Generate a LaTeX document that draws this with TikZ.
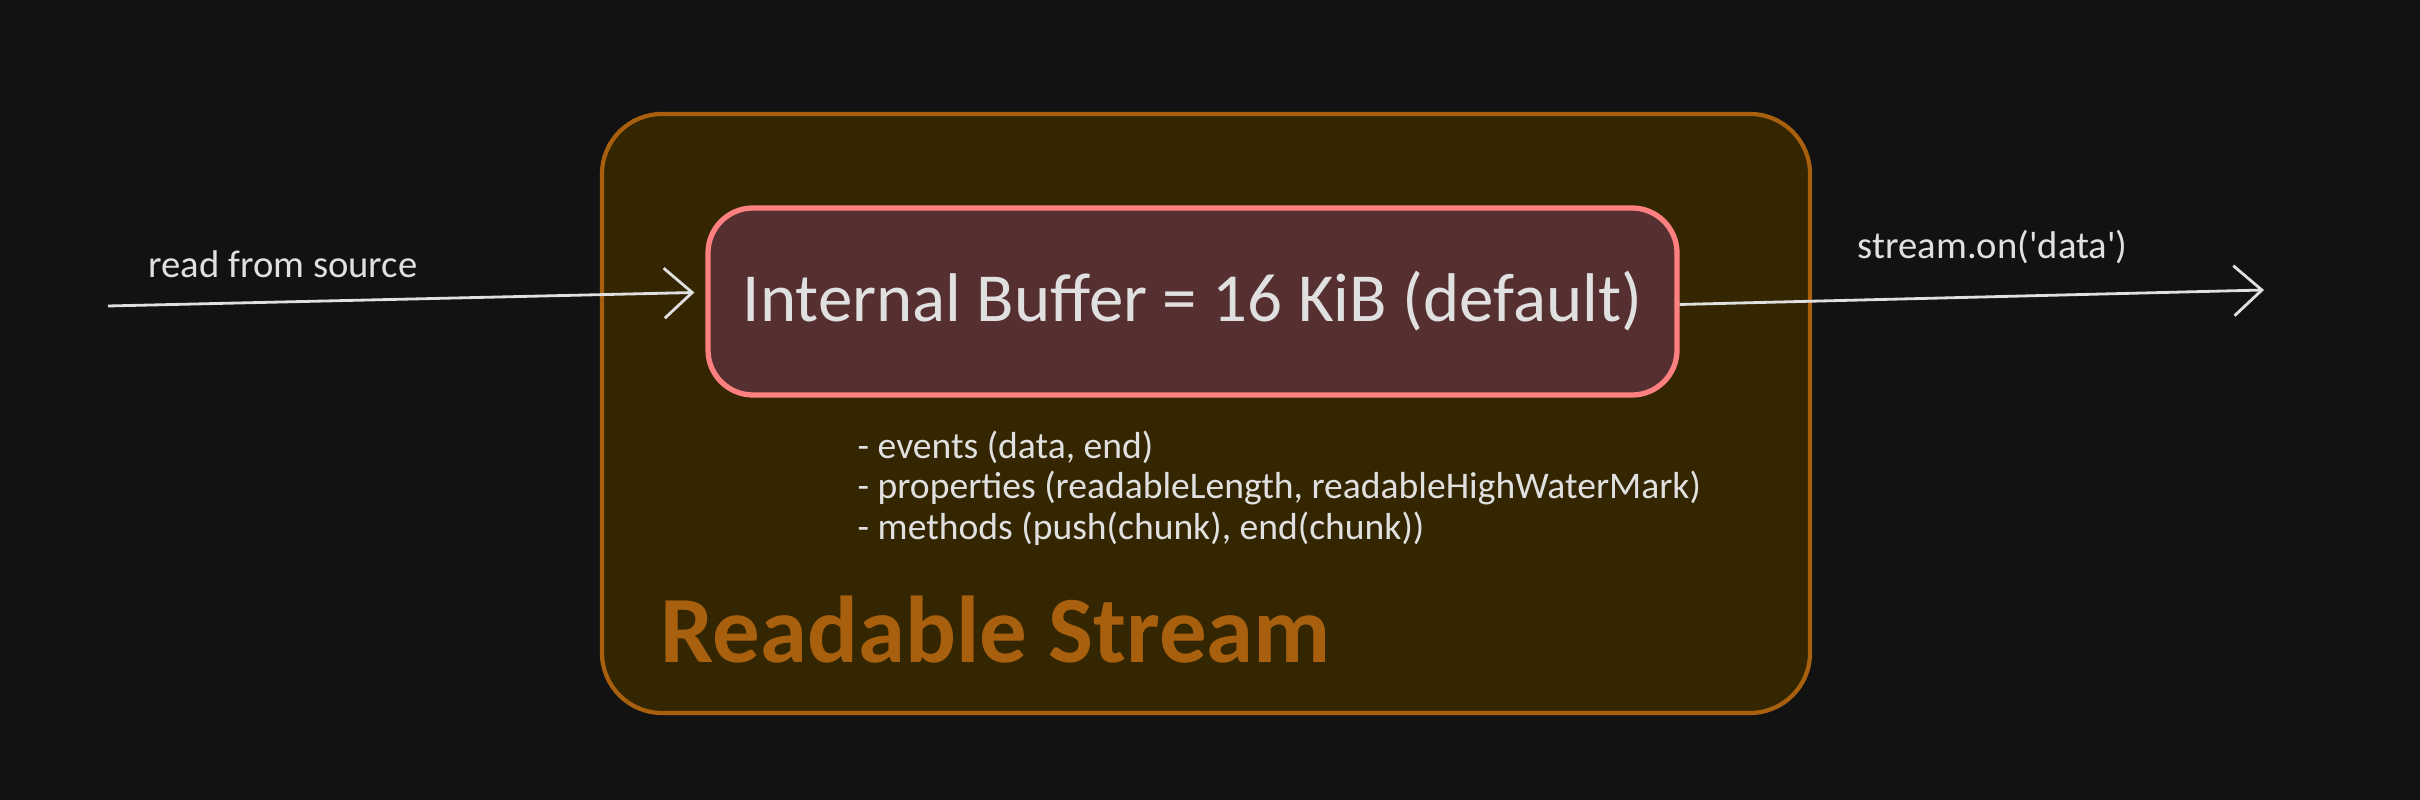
\documentclass[tikz,border=0pt]{standalone}
\usepackage{fontspec}
\setmainfont{Carlito}
\usetikzlibrary{positioning,arrows.meta}
\definecolor{canvas}{HTML}{121212}
\definecolor{streamfill}{HTML}{332600}
\definecolor{streamline}{HTML}{A8600F}
\definecolor{bufferfill}{HTML}{562F31}
\definecolor{bufferline}{HTML}{FF8080}
\definecolor{chalk}{HTML}{E0E0E0}

\begin{document}
\begin{tikzpicture}[
	flow/.style={draw=chalk,line width=0.8pt,-{Straight Barb[length=0.28cm,width=0.5cm]}},
	note/.style={text=chalk,inner sep=0pt}]
	\fill[canvas] (0,0) rectangle (24.2,8);
	\useasboundingbox (0,0) rectangle (24.2,8);
	\node[draw=streamline,fill=streamfill,line width=1.2pt,rounded corners=0.6cm,minimum width=12.08cm,minimum height=5.99cm] (stream) at (12.06,3.865) {};
	\node[draw=bufferline,fill=bufferfill,line width=1.5pt,rounded corners=0.45cm,minimum width=9.69cm,minimum height=1.87cm,text=chalk,font=\fontsize{19.6}{22}\selectfont] (buffer) at (11.925,4.985) {Internal Buffer = 16 KiB (default)};
	\node[note,anchor=north west,align=left,font=\fontsize{10.7}{11.6}\selectfont] (props) at (8.57,3.7) {- events (data, end)\\- properties (readableLength, readableHighWaterMark)\\- methods (push(chunk), end(chunk))};
	\node[note,anchor=base west,text=streamline,font=\fontsize{27}{30}\selectfont\bfseries] (title) at (6.6,1.37) {Readable Stream};
	\coordinate (src) at (1.08,4.94);
	\coordinate (sink) at (22.64,5.10);
	\draw[flow] (src) -- ([xshift=-0.11cm,yshift=0.09cm]buffer.west);
	\draw[flow] ([yshift=-0.03cm]buffer.east) -- (sink);
	\node[note,anchor=base west,font=\fontsize{11}{13}\selectfont] (srclabel) at (1.48,5.22) {read from source};
	\node[note,anchor=base west,font=\fontsize{11}{13}\selectfont] (sinklabel) at (18.57,5.41) {stream.on(\textquotesingle data\textquotesingle)};
\end{tikzpicture}
\end{document}
